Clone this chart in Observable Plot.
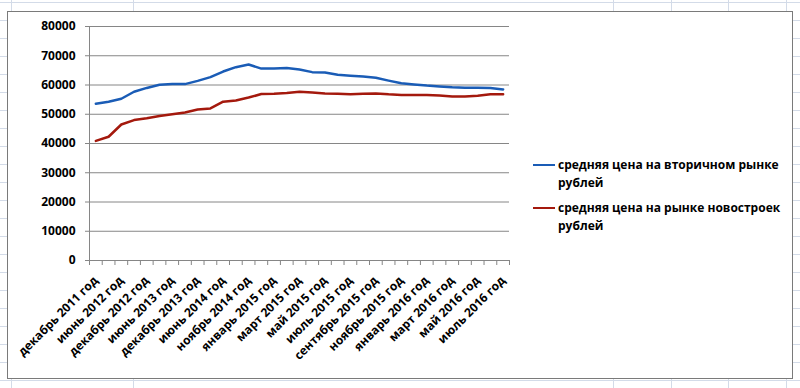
<!DOCTYPE html>
<html>
<head>
<meta charset="utf-8">
<script src="https://cdn.jsdelivr.net/npm/d3@7"></script>
<script src="https://cdn.jsdelivr.net/npm/@observablehq/plot@0.6"></script>
<style>
  html, body { margin: 0; padding: 0; }
  body {
    width: 800px; height: 388px; overflow: hidden; position: relative;
    background-color: #fff;
    background-image:
      repeating-linear-gradient(to bottom, #d3dbe8 0px, #d3dbe8 1px, transparent 1px, transparent 18px),
      linear-gradient(to right, transparent 11px, #d3dbe8 11px, #d3dbe8 12px, transparent 12px,
        transparent 133px, #d3dbe8 133px, #d3dbe8 134px, transparent 134px,
        transparent 613px, #d3dbe8 613px, #d3dbe8 614px, transparent 614px,
        transparent 671px, #d3dbe8 671px, #d3dbe8 672px, transparent 672px,
        transparent 728px, #d3dbe8 728px, #d3dbe8 729px, transparent 729px,
        transparent 786px, #d3dbe8 786px, #d3dbe8 787px, transparent 787px);
    background-position: 0 2px, 0 0;
    font-family: "Open Sans", sans-serif;
  }
  #frame {
    position: absolute; left: 7px; top: 11px; width: 784px; height: 366px;
    background: #fff; border: 1.5px solid #7a7a7a;
  }
  #chart { position: absolute; left: 0; top: 0; }
  #legend {
    position: absolute; left: 533px; top: 0; font-weight: 700; font-size: 12px; color: #000;
  }
  .item { position: absolute; left: 0; white-space: nowrap; }
  .item .sw { position: absolute; left: 0; width: 22px; height: 0; border-top: 2.5px solid; top: 7px; }
  .item .tx { position: absolute; left: 25px; line-height: 18px; top: -1px; }
</style>
</head>
<body>
<div id="frame"></div>
<div id="chart"></div>
<div id="legend"></div>
<script>
const categories = [
  "декабрь 2011 год","март 2012 год","июнь 2012 год","сентябрь 2012 год","декабрь 2012 год",
  "март 2013 год","июнь 2013 год","сентябрь 2013 год","декабрь 2013 год","март 2014 год",
  "июнь 2014 год","сентябрь 2014 год","ноябрь 2014 год","декабрь 2014 год","январь 2015 год",
  "февраль 2015 год","март 2015 год","апрель 2015 год","май 2015 год","июнь 2015 год",
  "июль 2015 год","август 2015 год","сентябрь 2015 год","октябрь 2015 год","ноябрь 2015 год",
  "декабрь 2015 год","январь 2016 год","февраль 2016 год","март 2016 год","апрель 2016 год",
  "май 2016 год","июнь 2016 год","июль 2016 год"
];
const secondary = [
  53600,54300,55300,57700,59000,60100,60300,60300,61400,62700,
  64600,66100,67000,65600,65600,65800,65300,64400,64300,63500,
  63200,62900,62500,61500,60600,60200,59800,59500,59200,59100,
  59100,59000,58500
];
const newBuild = [
  40900,42300,46500,48000,48600,49400,50000,50600,51600,52000,
  54300,54700,55700,56900,57000,57300,57700,57400,57100,57000,
  56800,57000,57100,56800,56600,56600,56600,56400,56100,56100,
  56300,56800,56800
];
const seriesNames = [
  "средняя цена на вторичном рынке рублей",
  "средняя цена на рынке новостроек рублей"
];
const seriesLines = [
  ["средняя цена на вторичном рынке", "рублей"],
  ["средняя цена на рынке новостроек", "рублей"]
];
const seriesColors = ["#1a5cb6", "#a4190d"];
const yTicks = [0,10000,20000,30000,40000,50000,60000,70000,80000];

const rows = categories.map((c, i) => ({i, c, secondary: secondary[i], newBuild: newBuild[i]}));
const boundaries = d3.range(-0.5, categories.length, 1);
const labelIdx = d3.range(0, categories.length, 2);
const gridColor = "#868686";

const chart = Plot.plot({
  width: 800, height: 388,
  marginLeft: 89, marginRight: 291, marginTop: 26, marginBottom: 128,
  style: {background: "transparent", fontFamily: "'Open Sans', sans-serif", fontSize: "12px", fontWeight: "700", color: "#000"},
  x: {type: "linear", domain: [-0.5, categories.length - 0.5]},
  y: {domain: [0, 80000]},
  marks: [
    Plot.gridY(yTicks, {stroke: gridColor, strokeOpacity: 1, strokeWidth: 1}),
    Plot.axisY(yTicks, {tickSize: 4, tickPadding: 10, stroke: gridColor, tickFormat: d => String(d), label: null, fill: "#000"}),
    Plot.ruleX([-0.5], {stroke: gridColor, strokeWidth: 1}),
    Plot.axisX(boundaries, {tickSize: 5, stroke: gridColor, tickFormat: () => "", label: null}),
    Plot.axisX(labelIdx, {tickSize: 0, tickPadding: 18, tickRotate: -45, tickFormat: i => categories[i], label: null, fill: "#000"}),
    Plot.lineY(rows, {x: "i", y: "secondary", stroke: seriesColors[0], strokeWidth: 2.5}),
    Plot.lineY(rows, {x: "i", y: "newBuild", stroke: seriesColors[1], strokeWidth: 2.5})
  ]
});
document.getElementById("chart").appendChild(chart);

const legend = document.getElementById("legend");
const legendTops = [157, 200];
seriesLines.forEach((lines, k) => {
  const item = document.createElement("div");
  item.className = "item";
  item.style.top = legendTops[k] + "px";
  item.title = seriesNames[k];
  const sw = document.createElement("div");
  sw.className = "sw";
  sw.style.borderTopColor = seriesColors[k];
  const tx = document.createElement("div");
  tx.className = "tx";
  tx.innerHTML = lines.join("<br>");
  item.appendChild(sw);
  item.appendChild(tx);
  legend.appendChild(item);
});
</script>
</body>
</html>
